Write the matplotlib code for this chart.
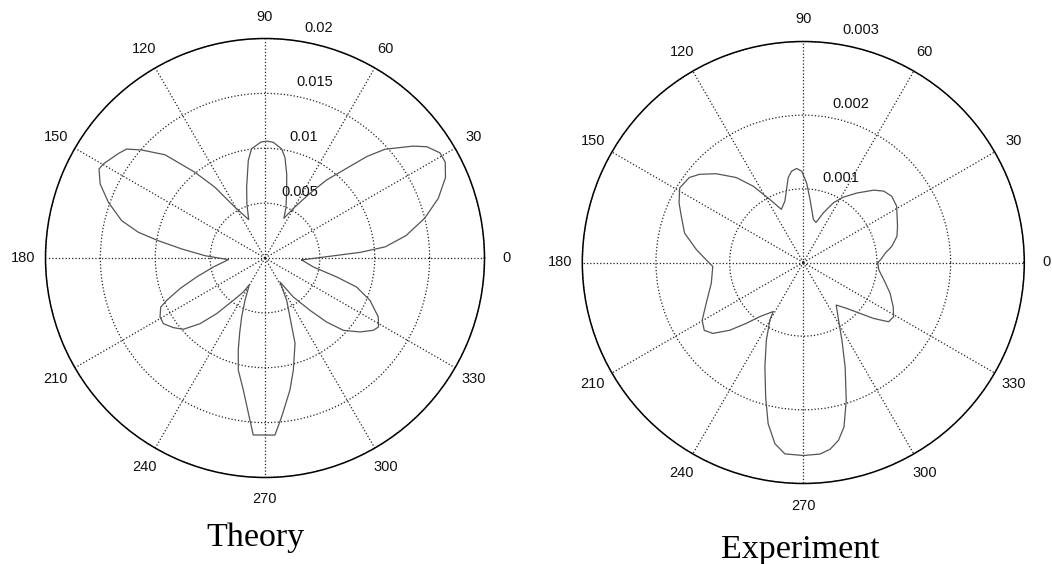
import numpy as np
import matplotlib
matplotlib.use("Agg")
import matplotlib.pyplot as plt

# ---------------- data (angles in degrees, radial values) ----------------
theory_deg = [-3.0, 1.2, 3.4, 5.3, 9.0, 14.0, 19.0, 24.0, 28.0, 31.0, 34.5, 37.1,
              42.2, 44.9, 47.7, 51.7, 55.2, 60.3, 64.5, 67.5, 72.3, 75.5, 78.8,
              81.3, 85.9, 89.0, 92.0, 97.0, 99.7, 104.5, 108.5, 113.0,
              120.6, 125.3, 129.3, 134.1, 138.8, 141.8, 144.5, 149.8, 151.8,
              155.8, 160.4, 165.4, 168.5, 170.8, 173.8, 177.8, 182.6,
              189.9, 195.5, 199.8, 203.3, 205.2, 209.3, 212.9, 217.2, 221.1,
              225.3, 229.0, 233.2, 237.5, 239.6,
              244.7, 248.4, 251.3, 253.8, 256.6, 260.7, 263.9, 266.2, 273.2,
              276.0, 280.7, 284.2, 289.4, 297.1, 302.0,
              306.0, 310.7, 313.9, 317.3, 322.1, 326.3, 328.7, 332.5, 338.0,
              342.4, 345.2, 349.5]
theory_val = [0.00334, 0.0056, 0.0087, 0.0110, 0.0130, 0.0150, 0.0167, 0.0180,
              0.0186, 0.0186, 0.0179, 0.0169, 0.01475, 0.0131, 0.01105, 0.00906,
              0.00718, 0.0052, 0.0040, 0.0050, 0.0065, 0.0079, 0.00935, 0.01005,
              0.01057, 0.01065, 0.01057, 0.01003, 0.00903, 0.00668, 0.0052, 0.0038,
              0.00537, 0.0079, 0.0101, 0.0131, 0.01494, 0.01605, 0.0164, 0.01704,
              0.01716, 0.01647, 0.01515, 0.0135, 0.01178, 0.00985, 0.00763,
              0.00547, 0.00334,
              0.00478, 0.00646, 0.00823, 0.00975, 0.0105, 0.01097, 0.01102,
              0.01049, 0.00988, 0.00842, 0.00672, 0.00482, 0.00367, 0.00282,
              0.00426, 0.00578, 0.0072, 0.00873, 0.0105, 0.0122, 0.01423, 0.01616,
              0.01616, 0.01454, 0.01224, 0.01053, 0.00824, 0.00434, 0.00258,
              0.0044, 0.00629, 0.0081, 0.00972, 0.01097, 0.01187, 0.0121, 0.01164,
              0.01032, 0.00876, 0.00675, 0.00448]

exp_deg = [0.0, 2.0, 6.5, 10.3, 15.6, 21.0, 31.1, 36.8, 41.6, 45.8, 52.4, 58.5,
           63.2, 67.9, 72.4, 76.8, 83.9, 87.6, 91.0, 94.1, 97.3, 100.1, 106.7,
           112.4, 118.0, 123.3, 128.3, 134.5, 139.7, 143.3, 148.9, 154.4, 159.3,
           166.1, 173.2, 178.4, 182.5, 192.7, 202.8, 209.7, 214.4, 218.1, 222.6,
           226.9, 231.3, 238.5, 239.8, 244.6, 249.8, 254.4, 257.7, 261.1, 264.5,
           270.0, 275.0, 278.2, 281.2, 283.9, 287.3, 291.8, 296.4, 301.4, 307.7,
           313.5, 318.2, 321.5, 325.2, 329.0, 333.8, 340.5, 347.8, 354.4]
exp_val = [0.00101, 0.00105, 0.00112, 0.00122, 0.00132, 0.00137, 0.00148, 0.00150,
           0.00146, 0.00137, 0.00119, 0.00104, 0.00091, 0.00073, 0.00057, 0.00060,
           0.00086, 0.00108, 0.00124, 0.00128, 0.00125, 0.00117, 0.00087, 0.00078,
           0.00097, 0.00124, 0.00147, 0.00169, 0.00185, 0.00193, 0.00196, 0.00187,
           0.00177, 0.00166, 0.00146, 0.00132, 0.00123, 0.00128, 0.00143, 0.00158,
           0.00163, 0.00156, 0.00136, 0.00113, 0.00094, 0.00078, 0.00090, 0.00117,
           0.00151, 0.00190, 0.00224, 0.00249, 0.00261, 0.00262, 0.00261, 0.00256,
           0.00246, 0.00230, 0.00196, 0.00153, 0.00118, 0.00092, 0.00073, 0.00086,
           0.00104, 0.00122, 0.00141, 0.00143, 0.00136, 0.00125, 0.00112, 0.00103]

angle_ticks = list(range(0, 360, 30))
angle_labels = [str(a) for a in angle_ticks]
theory_rings = [0.005, 0.01, 0.015, 0.02]
theory_ring_labels = ["0.005", "0.01", "0.015", "0.02"]
exp_rings = [0.001, 0.002, 0.003]
exp_ring_labels = ["0.001", "0.002", "0.003"]
titles = ["Theory", "Experiment"]

# ---------------- figure ----------------
W, H = 1052, 564
fig = plt.figure(figsize=(W / 100, H / 100), dpi=100)
fig.patch.set_facecolor("white")

SANS = ["Liberation Sans", "DejaVu Sans"]
SERIF = ["Liberation Serif", "DejaVu Serif"]


def polar_panel(cx, cy, R, deg, val, rings, ring_labels):
    rect = [(cx - R) / W, (H - cy - R) / H, 2 * R / W, 2 * R / H]
    ax = fig.add_axes(rect, projection="polar")
    rmax = rings[-1]
    th = np.deg2rad(np.array(deg + [deg[0]]))
    rv = np.array(val + [val[0]])
    ax.plot(th, rv, color="#555555", lw=0.9, solid_joinstyle="round")
    ax.set_ylim(0, rmax)
    ax.set_thetagrids(angle_ticks, labels=[""] * len(angle_ticks))
    ax.set_rgrids(rings, labels=[""] * len(rings))
    ax.grid(True, color="#222222", linestyle=":", linewidth=0.9)
    ax.spines["polar"].set_color("black")
    ax.spines["polar"].set_linewidth(1.1)
    ax.tick_params(length=0)
    # angle labels
    for a, lab in zip(angle_ticks, angle_labels):
        ax.text(np.deg2rad(a), 1.1 * rmax, lab, ha="center", va="center",
                fontsize=10.5, family=SANS, color="#111111", clip_on=False)
    # radial labels
    for rr, lab in zip(rings, ring_labels):
        t = rr / rmax
        dx = 0.033 + 0.139 * (t + 0.05)
        dy = t + 0.05
        ax.text(np.arctan2(dy, dx), np.hypot(dx, dy) * rmax, lab, ha="left",
                va="center", fontsize=10.5, family=SANS, color="#111111",
                clip_on=False)
    return ax


polar_panel(265, 258, 219.5, theory_deg, theory_val, theory_rings, theory_ring_labels)
polar_panel(803.3, 262.5, 221, exp_deg, exp_val, exp_rings, exp_ring_labels)

fig.text(255 / W, (H - 546) / H, titles[0], ha="center", va="baseline",
         fontsize=24.5, family=SERIF, color="black")
fig.text(800 / W, (H - 558) / H, titles[1], ha="center", va="baseline",
         fontsize=24.5, family=SERIF, color="black")

fig.savefig("out.png", dpi=100, facecolor="white")
